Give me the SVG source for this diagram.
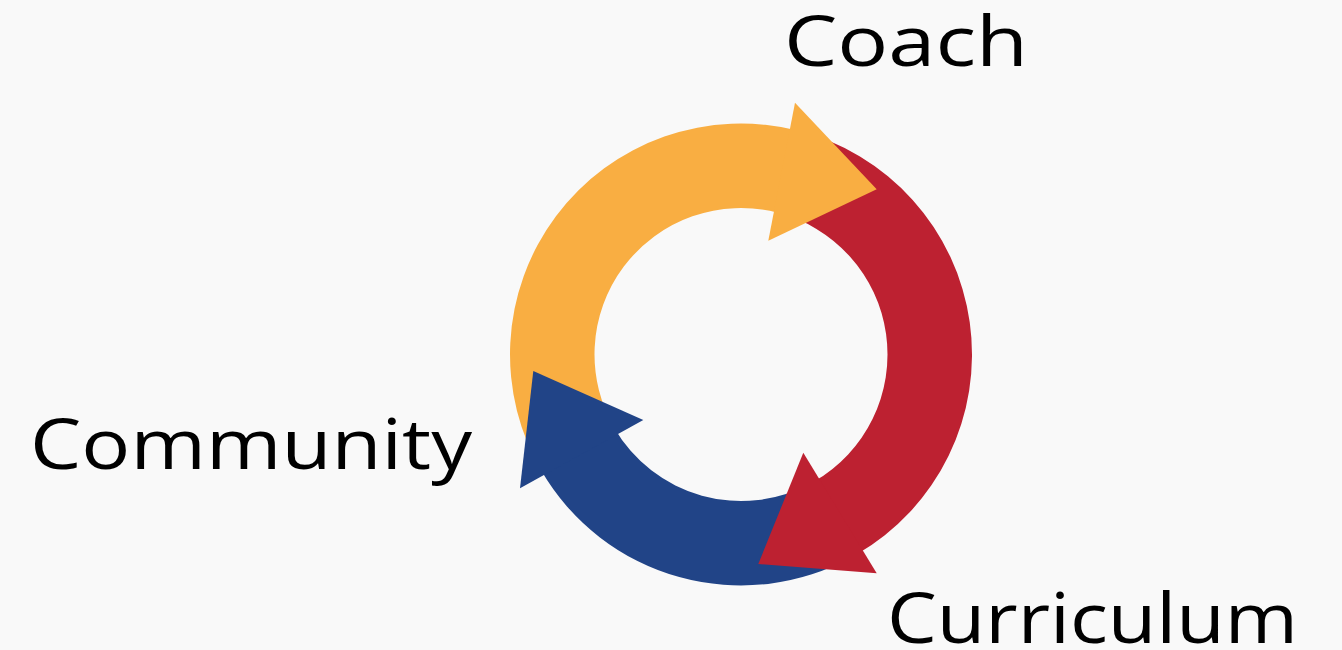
<svg xmlns="http://www.w3.org/2000/svg" width="1342" height="650" viewBox="0 0 1342 650">
  <style>
    .lbl { font-family: "Open Sans", "Liberation Sans", sans-serif; font-size: 69px; fill: #000000; }
    .orange { fill: #F9AE42; }
    .red { fill: #BD2131; }
    .blue { fill: #214487; }
  </style>
  <rect x="0" y="0" width="1342" height="650" fill="#F9F9F9"/>
  <g id="connectors">
    <!-- arrow bodies (annular sectors) -->
    <path id="orange-body" class="orange" d="M 543.0 473.47 A 231 231 0 0 1 798.84 130.86 L 777.68 212.67 A 146.5 146.5 0 0 0 615.42 429.95 Z"/>
    <path id="red-body" class="red" d="M 796.88 130.36 A 231 231 0 0 1 856.5 554.55 L 814.25 481.37 A 146.5 146.5 0 0 0 776.44 212.35 Z"/>
    <path id="blue-body" class="blue" d="M 852.99 556.54 A 231 231 0 0 1 540.95 470.0 L 614.13 427.75 A 146.5 146.5 0 0 0 812.02 482.63 Z"/>
    <!-- arrow heads -->
    <polygon id="orange-head" class="orange" points="795,102.7 876.7,189.3 768.3,240.7"/>
    <polygon id="red-head" class="red" points="876.7,573.3 758.3,564 803.3,452.7"/>
    <polygon id="blue-head" class="blue" points="643.3,420 533.3,371 520,488.3"/>
  </g>
  <g id="node-coach">
    <text class="lbl" x="784" y="65.5" textLength="244" lengthAdjust="spacingAndGlyphs">Coach</text>
  </g>
  <g id="node-community">
    <text class="lbl" x="30" y="468.5" textLength="442" lengthAdjust="spacingAndGlyphs">Community</text>
  </g>
  <g id="node-curriculum">
    <text class="lbl" x="887" y="643" textLength="411" lengthAdjust="spacingAndGlyphs">Curriculum</text>
  </g>
</svg>
